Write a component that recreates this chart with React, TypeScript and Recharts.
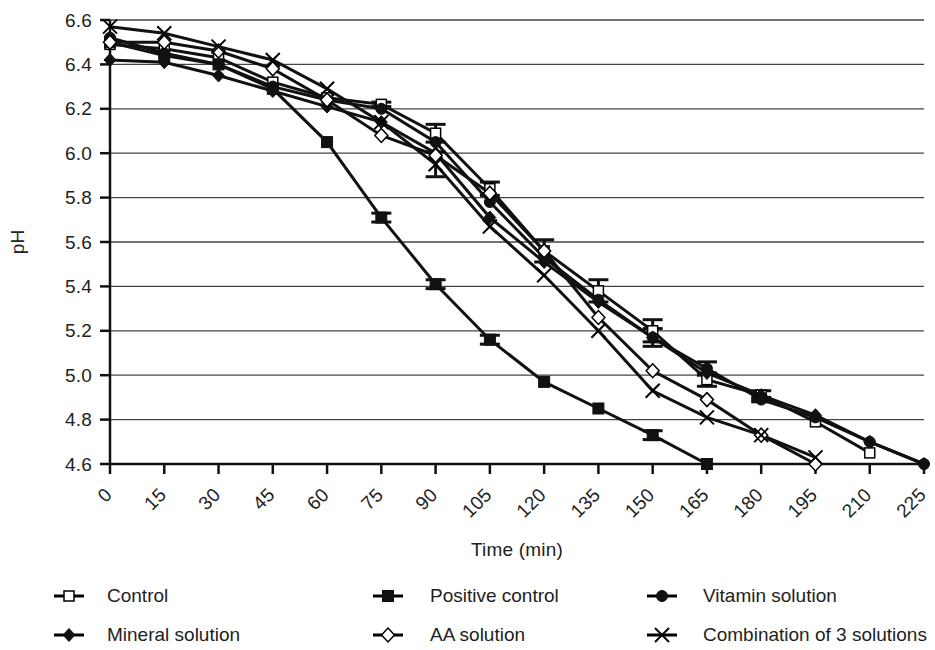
import React from 'react';
import { LineChart, Line, XAxis, YAxis, CartesianGrid, ErrorBar, Legend } from 'recharts';

const times = [0, 15, 30, 45, 60, 75, 90, 105, 120, 135, 150, 165, 180, 195, 210, 225];
const yTicks = [4.6, 4.8, 5.0, 5.2, 5.4, 5.6, 5.8, 6.0, 6.2, 6.4, 6.6];

const control = [6.49, 6.47, 6.43, 6.32, 6.25, 6.22, 6.09, 5.84, 5.56, 5.38, 5.2, 4.98, 4.91, 4.79, 4.65, null];
const controlErr = [null, null, null, null, null, 0.01, 0.04, 0.03, 0.05, 0.05, 0.05, 0.03, 0.02, null, null, null];
const positive = [6.5, 6.44, 6.4, 6.29, 6.05, 5.71, 5.41, 5.16, 4.97, 4.85, 4.73, 4.6, null, null, null, null];
const positiveErr = [null, null, null, null, null, 0.02, 0.02, 0.02, null, null, 0.02, null, null, null, null, null];
const vitamin = [6.52, 6.45, 6.4, 6.3, 6.24, 6.2, 6.05, 5.78, 5.53, 5.34, 5.17, 5.03, 4.89, 4.81, 4.7, 4.6];
const vitaminErr = [null, null, null, null, null, null, null, null, null, null, 0.04, 0.03, 0.01, null, null, null];
const mineral = [6.42, 6.41, 6.35, 6.28, 6.21, 6.14, 6.0, 5.71, 5.51, 5.33, 5.17, 5.01, 4.91, 4.82, 4.7, 4.6];
const aa = [6.5, 6.5, 6.46, 6.38, 6.24, 6.08, 5.99, 5.82, 5.56, 5.26, 5.02, 4.89, 4.73, 4.6, null, null];
const combo = [6.57, 6.54, 6.48, 6.42, 6.29, 6.14, 5.95, 5.67, 5.45, 5.2, 4.93, 4.81, 4.73, 4.63, null, null];
const comboErr = [null, null, null, null, null, null, 0.056, null, null, null, null, null, null, null, null, null];

const seriesNames = ['Control', 'Positive control', 'Vitamin solution', 'Mineral solution', 'AA solution', 'Combination of 3 solutions'];
const seriesKeys = ['control', 'positive', 'vitamin', 'mineral', 'aa', 'combo'];
const markerTypes = ['openSquare', 'filledSquare', 'circle', 'filledDiamond', 'openDiamond', 'cross'];

const data = times.map((t, i) => ({
  t,
  control: control[i],
  controlErr: controlErr[i],
  positive: positive[i],
  positiveErr: positiveErr[i],
  vitamin: vitamin[i],
  vitaminErr: vitaminErr[i],
  mineral: mineral[i],
  aa: aa[i],
  combo: combo[i],
  comboErr: comboErr[i],
}));

const FONT = '"Liberation Sans", Arial, Helvetica, sans-serif';
const FS = 19;
const LS = 0.2;

function Marker({ type, cx, cy }: { type: string; cx: number; cy: number }) {
  if (cx == null || cy == null || isNaN(cx) || isNaN(cy)) return null;
  switch (type) {
    case 'openSquare':
      return <rect x={cx - 5} y={cy - 5} width={10} height={10} fill="#fff" stroke="#000" strokeWidth={1.5} />;
    case 'filledSquare':
      return <rect x={cx - 5.5} y={cy - 5.5} width={11} height={11} fill="#111" stroke="#111" strokeWidth={1} />;
    case 'circle':
      return <circle cx={cx} cy={cy} r={5.5} fill="#111" stroke="#111" />;
    case 'filledDiamond':
      return <polygon points={`${cx},${cy - 6.5} ${cx + 6},${cy} ${cx},${cy + 6.5} ${cx - 6},${cy}`} fill="#111" stroke="#111" />;
    case 'openDiamond':
      return <polygon points={`${cx},${cy - 7} ${cx + 6.5},${cy} ${cx},${cy + 7} ${cx - 6.5},${cy}`} fill="#fff" stroke="#000" strokeWidth={1.5} />;
    case 'cross':
      return (
        <g stroke="#000" strokeWidth={2}>
          <line x1={cx - 7} y1={cy - 7} x2={cx + 7} y2={cy + 7} />
          <line x1={cx - 7} y1={cy + 7} x2={cx + 7} y2={cy - 7} />
        </g>
      );
    default:
      return null;
  }
}

const makeDot = (type: string) => (props: any) => (
  <Marker key={`${type}-${props.index}`} type={type} cx={props.cx} cy={props.cy} />
);

function XTick(props: any) {
  const { x, y, payload } = props;
  const ax = x + 3;
  const ay = y + 20;
  return (
    <text
      x={ax}
      y={ay}
      transform={`rotate(-45, ${ax}, ${ay})`}
      textAnchor="end"
      fontFamily={FONT}
      fontSize={FS}
      letterSpacing={LS}
      fill="#222"
    >
      {payload.value}
    </text>
  );
}

function YTick(props: any) {
  const { x, y, payload } = props;
  return (
    <text x={x} y={y} dy="0.35em" textAnchor="end" fontFamily={FONT} fontSize={FS} letterSpacing={LS} fill="#222">
      {Number(payload.value).toFixed(1)}
    </text>
  );
}

function YLabel(props: any) {
  const vb = props.viewBox || {};
  const cx = vb.x + 17;
  const cy = vb.y + vb.height / 2;
  return (
    <text x={cx} y={cy} transform={`rotate(-90, ${cx}, ${cy})`} textAnchor="middle" dy="0.35em" fontFamily={FONT} fontSize={FS} fill="#222">
      pH
    </text>
  );
}

function XLabel(props: any) {
  const vb = props.viewBox || {};
  const cx = vb.x + vb.width / 2;
  const cy = vb.y + 85;
  return (
    <text x={cx} y={cy} textAnchor="middle" dy="0.35em" fontFamily={FONT} fontSize={FS} letterSpacing={LS} fill="#222">
      Time (min)
    </text>
  );
}

const legendCols = [
  { lineX: 54, textX: 107 },
  { lineX: 373, textX: 430 },
  { lineX: 647, textX: 703 },
];
const legendRows = [42, 81];

function LegendContent() {
  return (
    <div style={{ position: 'relative', width: 935, height: 96 }}>
      {seriesNames.map((name, i) => {
        const col = legendCols[i % 3];
        const row = legendRows[Math.floor(i / 3)];
        return (
          <React.Fragment key={name}>
            <svg
              width={34}
              height={20}
              style={{ position: 'absolute', left: col.lineX - 2, top: row - 10, overflow: 'visible' }}
            >
              <line x1={2} y1={10} x2={32} y2={10} stroke="#000" strokeWidth={3} />
              <Marker type={markerTypes[i]} cx={17} cy={10} />
            </svg>
            <span
              style={{
                position: 'absolute',
                left: col.textX,
                top: row - 12,
                fontFamily: FONT,
                fontSize: FS,
                lineHeight: '24px',
                color: '#222',
                whiteSpace: 'nowrap',
              }}
            >
              {name}
            </span>
          </React.Fragment>
        );
      })}
    </div>
  );
}

export default function App() {
  return (
    <div style={{ position: 'absolute', left: 0, top: 0, width: 935, height: 650, background: '#fff' }}>
      <LineChart width={935} height={650} data={data} margin={{ top: 20, right: 11, bottom: 0, left: 0 }}>
        <CartesianGrid vertical={false} stroke="#444" strokeWidth={1.3} />
        <XAxis
          dataKey="t"
          type="number"
          domain={[0, 225]}
          ticks={times}
          interval={0}
          height={90}
          tickSize={10}
          tick={<XTick />}
          axisLine={{ stroke: '#111', strokeWidth: 2.5 }}
          tickLine={{ stroke: '#111', strokeWidth: 2.5 }}
          label={<XLabel />}
        />
        <YAxis
          type="number"
          domain={[4.6, 6.6]}
          ticks={yTicks}
          interval={0}
          width={110}
          tickSize={10}
          tickMargin={8}
          tick={<YTick />}
          axisLine={{ stroke: '#111', strokeWidth: 2.5 }}
          tickLine={{ stroke: '#111', strokeWidth: 2.5 }}
          label={<YLabel />}
        />
        <Legend
          verticalAlign="bottom"
          content={<LegendContent />}
          wrapperStyle={{ position: 'absolute', left: 0, top: 554, width: 935, height: 96 }}
        />
        {seriesKeys.map((k, i) => {
          const errKey =
            k === 'control' ? 'controlErr' : k === 'positive' ? 'positiveErr' : k === 'vitamin' ? 'vitaminErr' : k === 'combo' ? 'comboErr' : null;
          return (
            <Line
              key={k}
              dataKey={k}
              name={seriesNames[i]}
              stroke="#111"
              strokeWidth={3}
              dot={makeDot(markerTypes[i])}
              activeDot={false}
              isAnimationActive={false}
              legendType="none"
            >
              {errKey ? (
                <ErrorBar dataKey={errKey} width={10} stroke="#111" strokeWidth={3} direction="y" />
              ) : null}
            </Line>
          );
        })}
      </LineChart>
    </div>
  );
}
